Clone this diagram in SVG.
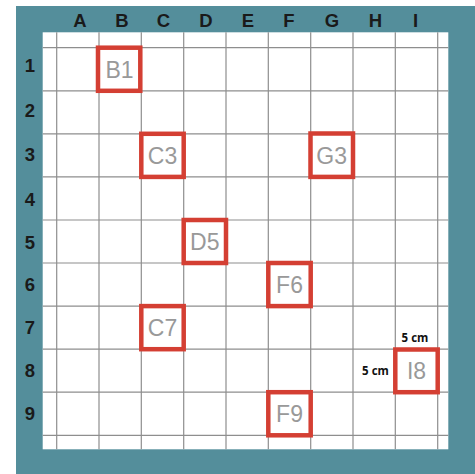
<svg xmlns="http://www.w3.org/2000/svg" width="475" height="474" viewBox="0 0 475 474">
<style>
.grid line{stroke:#8e8e8e;stroke-width:1.2}
.hdr{font-family:"Liberation Sans",Arial,sans-serif;font-weight:bold;font-size:18.5px;fill:#1a1a1a;text-anchor:middle}
.box rect{fill:none;stroke:#d43f33;stroke-width:4.5}
.box text{font-family:"Liberation Sans",Arial,sans-serif;font-size:23px;fill:#999999;text-anchor:middle}
.dim{font-family:"Open Sans","Liberation Sans",sans-serif;font-weight:bold;font-size:11.5px;fill:#111;text-anchor:middle}
</style>
<rect x="0" y="0" width="475" height="474" fill="#ffffff"/>
<rect x="16" y="6" width="459" height="468" fill="#548e9b"/>
<rect x="42.7" y="32.3" width="405.6" height="417" fill="#ffffff"/>
<g class="grid">
<line x1="56.7" y1="32.3" x2="56.7" y2="449.3"/>
<line x1="99" y1="32.3" x2="99" y2="449.3"/>
<line x1="141.3" y1="32.3" x2="141.3" y2="449.3"/>
<line x1="183.7" y1="32.3" x2="183.7" y2="449.3"/>
<line x1="226" y1="32.3" x2="226" y2="449.3"/>
<line x1="268.3" y1="32.3" x2="268.3" y2="449.3"/>
<line x1="310.7" y1="32.3" x2="310.7" y2="449.3"/>
<line x1="353" y1="32.3" x2="353" y2="449.3"/>
<line x1="395.3" y1="32.3" x2="395.3" y2="449.3"/>
<line x1="437.7" y1="32.3" x2="437.7" y2="449.3"/>
<line x1="42.7" y1="47.7" x2="448.3" y2="47.7"/>
<line x1="42.7" y1="90.8" x2="448.3" y2="90.8"/>
<line x1="42.7" y1="133.8" x2="448.3" y2="133.8"/>
<line x1="42.7" y1="176.9" x2="448.3" y2="176.9"/>
<line x1="42.7" y1="220" x2="448.3" y2="220"/>
<line x1="42.7" y1="263" x2="448.3" y2="263"/>
<line x1="42.7" y1="306.1" x2="448.3" y2="306.1"/>
<line x1="42.7" y1="349.2" x2="448.3" y2="349.2"/>
<line x1="42.7" y1="392.2" x2="448.3" y2="392.2"/>
<line x1="42.7" y1="435.3" x2="448.3" y2="435.3"/>
</g>
<g id="col-headers" class="hdr">
<text x="80" y="27">A</text>
<text x="122" y="27">B</text>
<text x="163.5" y="27">C</text>
<text x="206" y="27">D</text>
<text x="248" y="27">E</text>
<text x="289" y="27">F</text>
<text x="332" y="27">G</text>
<text x="375.5" y="27">H</text>
<text x="415.5" y="27">I</text>
</g>
<g id="row-headers" class="hdr">
<text x="30" y="72">1</text>
<text x="30" y="117">2</text>
<text x="30" y="161">3</text>
<text x="30" y="206">4</text>
<text x="30" y="249">5</text>
<text x="30" y="291">6</text>
<text x="30" y="334">7</text>
<text x="30" y="377">8</text>
<text x="30" y="420">9</text>
</g>
<g id="B1" class="box"><rect x="98" y="47.7" width="42.3" height="43.1"/><text x="119.5" y="77.5">B1</text></g>
<g id="C3" class="box"><rect x="141.3" y="133.8" width="42.4" height="43.1"/><text x="162.5" y="163.5">C3</text></g>
<g id="G3" class="box"><rect x="310.5" y="133.5" width="42.5" height="43.4"/><text x="331.7" y="163.5">G3</text></g>
<g id="D5" class="box"><rect x="183.7" y="220" width="42.3" height="43"/><text x="204.8" y="249.5">D5</text></g>
<g id="F6" class="box"><rect x="268.3" y="263" width="42.4" height="43.1"/><text x="289.5" y="292.5">F6</text></g>
<g id="C7" class="box"><rect x="141.3" y="306.1" width="42.4" height="43.1"/><text x="162.5" y="335.5">C7</text></g>
<g id="I8" class="box"><rect x="395.3" y="349.5" width="42.4" height="42.7"/><text x="416.5" y="379">I8</text></g>
<g id="F9" class="box"><rect x="268.3" y="392.2" width="42.4" height="43.1"/><text x="289.5" y="421.5">F9</text></g>
<g id="dimensions">
<text class="dim" x="415" y="342">5 cm</text>
<text class="dim" x="375.5" y="374.5">5 cm</text>
</g>
</svg>
